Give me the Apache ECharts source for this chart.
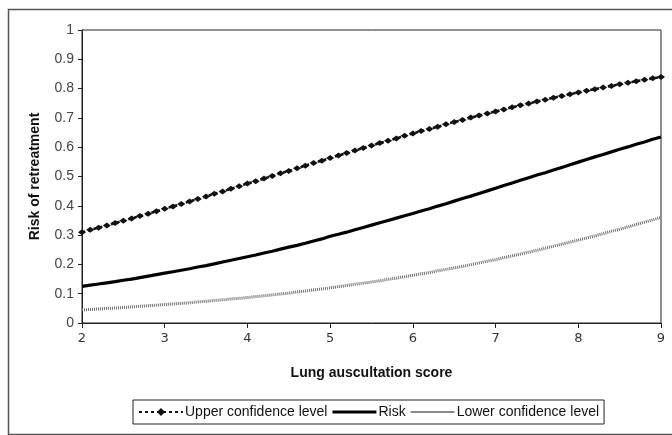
<!DOCTYPE html>
<html>
<head>
<meta charset="utf-8">
<script src="https://cdn.jsdelivr.net/npm/echarts@6/dist/echarts.min.js"></script>
<style>
html,body{margin:0;padding:0;background:#fff;}
#main{width:672px;height:435px;}
</style>
</head>
<body>
<div id="main"></div>
<script>
var scores = [2.0,2.1,2.2,2.3,2.4,2.5,2.6,2.7,2.8,2.9,
  3.0,3.1,3.2,3.3,3.4,3.5,3.6,3.7,3.8,3.9,
  4.0,4.1,4.2,4.3,4.4,4.5,4.6,4.7,4.8,4.9,
  5.0,5.1,5.2,5.3,5.4,5.5,5.6,5.7,5.8,5.9,
  6.0,6.1,6.2,6.3,6.4,6.5,6.6,6.7,6.8,6.9,
  7.0,7.1,7.2,7.3,7.4,7.5,7.6,7.7,7.8,7.9,
  8.0,8.1,8.2,8.3,8.4,8.5,8.6,8.7,8.8,8.9,9.0];

var upper = [0.310,0.318,0.325,0.333,0.341,0.349,0.357,0.365,0.373,0.381,
  0.390,0.398,0.406,0.415,0.423,0.432,0.441,0.449,0.458,0.467,
  0.476,0.484,0.493,0.502,0.511,0.519,0.528,0.537,0.546,0.554,
  0.563,0.572,0.580,0.589,0.597,0.606,0.614,0.622,0.630,0.639,
  0.647,0.655,0.662,0.670,0.678,0.686,0.693,0.701,0.708,0.715,
  0.722,0.729,0.736,0.743,0.749,0.756,0.762,0.769,0.775,0.781,
  0.787,0.793,0.798,0.804,0.809,0.815,0.820,0.825,0.830,0.835,0.840];

var risk = [0.125,0.129,0.133,0.137,0.141,0.146,0.150,0.155,0.160,0.165,
  0.170,0.175,0.180,0.185,0.191,0.196,0.202,0.208,0.214,0.220,
  0.226,0.232,0.239,0.245,0.252,0.259,0.265,0.272,0.280,0.287,
  0.296,0.303,0.310,0.318,0.326,0.334,0.342,0.350,0.358,0.366,
  0.374,0.382,0.390,0.399,0.407,0.416,0.425,0.433,0.442,0.451,
  0.460,0.469,0.478,0.487,0.496,0.505,0.513,0.522,0.531,0.540,
  0.549,0.558,0.567,0.575,0.584,0.593,0.601,0.610,0.618,0.627,0.635];

var lower = [0.045,0.046,0.048,0.050,0.051,0.053,0.055,0.057,0.059,0.061,
  0.063,0.065,0.067,0.069,0.072,0.074,0.077,0.079,0.082,0.084,
  0.087,0.090,0.093,0.096,0.099,0.102,0.106,0.109,0.113,0.116,
  0.120,0.124,0.128,0.132,0.136,0.140,0.144,0.149,0.153,0.158,
  0.163,0.168,0.172,0.178,0.183,0.188,0.193,0.199,0.205,0.211,
  0.216,0.223,0.229,0.235,0.242,0.248,0.255,0.262,0.269,0.276,
  0.283,0.290,0.297,0.305,0.313,0.320,0.328,0.336,0.344,0.352,0.360];

var seriesNames = ['Upper confidence level', 'Risk', 'Lower confidence level'];
var xTitle = 'Lung auscultation score';
var yTitle = 'Risk of retreatment';

function pairs(ys){ return scores.map(function(x,i){ return [x, ys[i]]; }); }

var chart = echarts.init(document.getElementById('main'), null, {renderer:'canvas'});
var font = '"Liberation Sans", Arial, sans-serif';
chart.setOption({
  animation: false,
  backgroundColor: '#fff',
  graphic: [{
    type: 'rect', left: 6, top: 7, z: -1,
    shape: {x: 0, y: 0, width: 665, height: 425},
    style: {fill: 'none', stroke: '#555', lineWidth: 1.5}
  }],
  grid: {left: 82, right: 11, top: 30, bottom: 112, show: true, borderColor: '#222', borderWidth: 1, backgroundColor: 'transparent'},
  legend: {
    left: 133, top: 400, width: 469,
    padding: [5, 5, 5, 5],
    borderColor: '#222', borderWidth: 1,
    itemGap: 5, itemWidth: 44, itemHeight: 10,
    textStyle: {fontFamily: font, fontSize: 14, color: '#111', padding: [0, 0, 0, -3]},
    data: [
      {name: seriesNames[0]},
      {name: seriesNames[1], icon: 'path://M0,3.5H44V6.5H0Z', itemStyle: {color: '#000'}},
      {name: seriesNames[2], icon: 'path://M0,4H44V6H0Z', itemStyle: {color: '#888'}}
    ]
  },
  xAxis: {
    type: 'value', min: 2, max: 9, interval: 1,
    name: xTitle, nameLocation: 'middle', nameGap: 43,
    nameTextStyle: {fontFamily: font, fontSize: 14, fontWeight: 'bold', color: '#111'},
    axisLine: {lineStyle: {color: '#222'}},
    axisTick: {show: true, length: 5, lineStyle: {color: '#222'}},
    axisLabel: {fontFamily: '"DejaVu Sans", sans-serif', fontSize: 13, color: '#333', margin: 9},
    splitLine: {show: false}
  },
  yAxis: {
    type: 'value', min: 0, max: 1, interval: 0.1,
    name: yTitle, nameLocation: 'middle', nameGap: 40,
    nameTextStyle: {fontFamily: font, fontSize: 14, fontWeight: 'bold', color: '#111'},
    axisLine: {show: true, lineStyle: {color: '#222'}},
    axisTick: {show: true, length: 4, lineStyle: {color: '#222'}},
    axisLabel: {fontFamily: font, fontSize: 14, color: '#444', margin: 8,
      formatter: function(v){ return String(Math.round(v*10)/10); }},
    splitLine: {show: false}
  },
  series: [
    {
      name: seriesNames[0], type: 'line', data: pairs(upper),
      symbol: 'diamond', symbolSize: [8, 6], showSymbol: true,
      itemStyle: {color: '#111'},
      lineStyle: {color: '#111', width: 2.5, type: [3, 3]}
    },
    {
      name: seriesNames[1], type: 'line', data: pairs(risk),
      symbol: 'none',
      itemStyle: {color: '#000'},
      lineStyle: {color: '#000', width: 3.2}
    },
    {
      name: seriesNames[2], type: 'line', data: pairs(lower),
      symbol: 'none',
      itemStyle: {color: '#888'},
      lineStyle: {color: '#6e6e6e', width: 3, type: [1, 1]}
    }
  ]
});
</script>
</body>
</html>
